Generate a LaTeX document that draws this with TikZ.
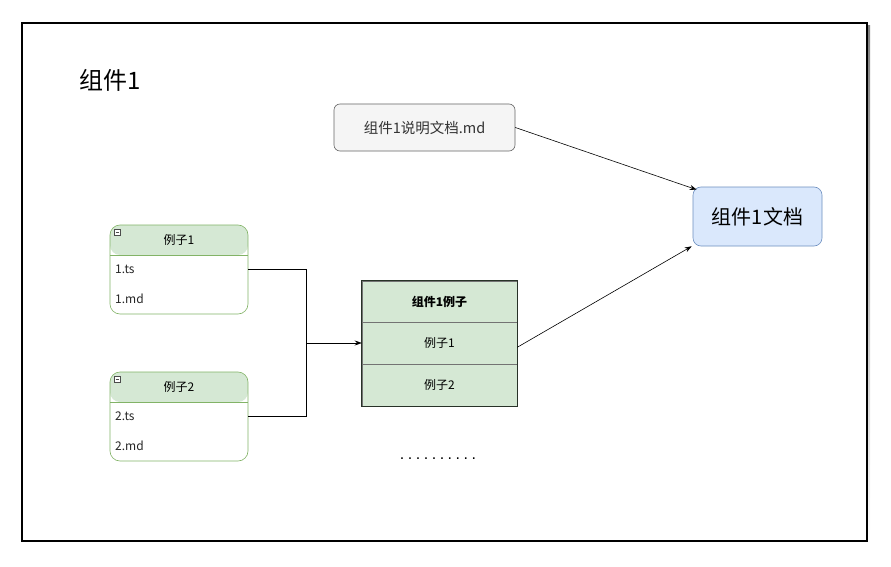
\documentclass[tikz,border=0pt]{standalone}
\usepackage{fontspec}
\setmainfont{Noto Sans CJK SC}
\newfontfamily\dotfont[LetterSpace=22]{Liberation Sans}
\usetikzlibrary{positioning, arrows.meta, calc}
\definecolor{notegray}{RGB}{102, 102, 102}
\definecolor{notefill}{RGB}{245, 245, 245}
\definecolor{docblue}{RGB}{108, 142, 191}
\definecolor{docfill}{RGB}{218, 232, 252}
\definecolor{exgreen}{RGB}{130, 179, 102}
\definecolor{exfill}{RGB}{213, 232, 212}
\definecolor{cellline}{RGB}{40, 50, 40}
\definecolor{shade}{RGB}{190, 190, 190}

\begin{document}
\begin{tikzpicture}[
    x=1pt, y=-1pt,
    >=Stealth,
    notebox/.style={
        rectangle, rounded corners=6pt,
        draw=notegray, fill=notefill, line width=0.6pt,
        minimum width=181pt, minimum height=47pt,
        font=\fontsize{14.5}{17}\selectfont, text=black!80,
    },
    docbox/.style={
        rectangle, rounded corners=8pt,
        draw=docblue, fill=docfill, line width=0.6pt,
        minimum width=129pt, minimum height=59pt,
        font=\fontsize{20}{24}\selectfont,
    },
    lane/.style={
        rectangle, rounded corners=10pt,
        draw=exgreen, fill=white, line width=0.6pt,
        minimum width=138pt, minimum height=89pt,
        path picture={
            \fill[exfill] (path picture bounding box.north west)
                rectangle ($(path picture bounding box.north east)+(0,30)$);
            \draw[exgreen, line width=0.6pt]
                ($(path picture bounding box.north west)+(0,30)$)
                -- ($(path picture bounding box.north east)+(0,30)$);
        },
    },
    lanehead/.style={font=\fontsize{12}{14}\selectfont},
    fold/.style={
        rectangle, draw=black!70, fill=white, line width=0.5pt,
        minimum size=6pt, inner sep=0pt,
        path picture={
            \draw[black!70, line width=0.6pt]
                ([xshift=1.3pt]path picture bounding box.west)
                -- ([xshift=-1.3pt]path picture bounding box.east);
        },
    },
    item/.style={
        anchor=west, inner sep=0pt,
        font=\fontsize{12}{14}\selectfont, text=black!85,
    },
    cell/.style={
        rectangle, fill=exfill, draw=gray!90!black, line width=0.5pt,
        minimum width=155pt, minimum height=41.3pt, inner sep=0pt,
        font=\fontsize{12}{14}\selectfont,
    },
    link/.style={-{Stealth[length=7pt, width=5pt]}, line width=0.6pt},
    wire/.style={line width=0.6pt},
]
\useasboundingbox (0,0) rectangle (891,567);

% =============== Page frame ===============
\fill[shade] (25,26) rectangle (870,544);
\draw[fill=white, line width=1.6pt] (22,23) rectangle (867,541);

\node[anchor=west, inner sep=0pt, font=\fontsize{24}{28}\selectfont]
    (title) at (79,80) {组件1};

% =============== Docs ===============
\node[notebox] (mdnote) at (424.5,127.5) {组件1说明文档.md};
\node[docbox] (doc) at (757.5,216.5) {组件1文档};

% =============== Example lanes ===============
\node[lane] (ex1) at (179,269.5) {};
\node[lanehead] (ex1title) at ($(ex1.north)+(0,15)$) {例子1};
\node[fold] (ex1fold) at ($(ex1.north west)+(7.5,7.5)$) {};
\node[item] (ex1ts) at (115,269) {1.ts};
\node[item] (ex1md) at (115,299) {1.md};

\node[lane] (ex2) at (179,416.5) {};
\node[lanehead] (ex2title) at ($(ex2.north)+(0,15)$) {例子2};
\node[fold] (ex2fold) at ($(ex2.north west)+(7.5,7.5)$) {};
\node[item] (ex2ts) at (115,416) {2.ts};
\node[item] (ex2md) at (115,446) {2.md};

% =============== Example table ===============
\node[cell, font=\fontsize{12}{14}\selectfont\bfseries]
    (tblhead) at (439.5,301.5) {组件1例子};
\node[cell, below=0pt of tblhead] (tblrow1) {例子1};
\node[cell, below=0pt of tblrow1] (tblrow2) {例子2};
\draw[cellline, line width=0.8pt]
    (tblhead.north west) rectangle (tblrow2.south east);

\node[font=\dotfont\fontsize{16}{18}\selectfont, inner sep=0pt]
    (more) at (438,459) {..........};

% =============== Connectors ===============
\coordinate (joint) at (306,343);
\draw[wire] (ex1ts -| ex1.east) -| (joint);
\draw[wire] (ex2ts -| ex2.east) -| (joint);
\draw[link] (joint) -- (tblrow1.west |- joint);

\draw[link] (mdnote.east) -- ($(doc.north west)+(4,3)$);
\draw[link] ($(tblrow1.east)+(0,4)$) -- ($(doc.south west)+(-1,0)$);

\end{tikzpicture}
\end{document}
